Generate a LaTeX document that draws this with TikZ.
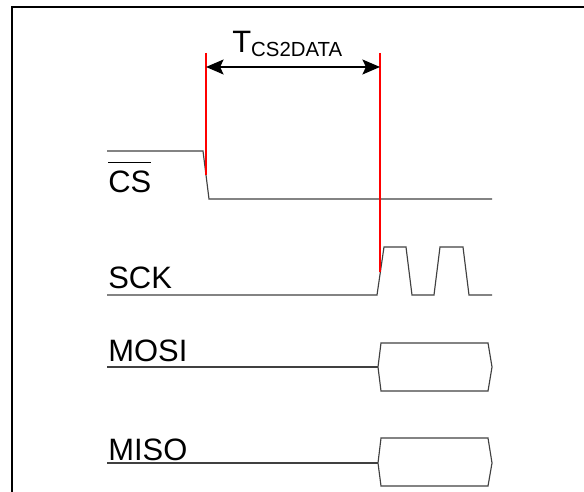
\documentclass[tikz,border=0pt]{standalone}
\usepackage{fontspec}
\setmainfont{Liberation Sans}
\usetikzlibrary{arrows.meta,positioning}
\newcommand{\barsig}[1]{\setbox0\hbox{#1}\rlap{\rule[17pt]{\wd0}{0.6pt}}\box0}

\begin{document}
\begin{tikzpicture}
[x=0.02cm,y=-0.02cm,
 sig/.style={draw=black!75,line width=0.65pt},
 marker/.style={draw=red,line width=1.1pt},
 lbl/.style={anchor=base west,inner sep=0pt,font=\fontsize{17.6}{20}\selectfont}]
\useasboundingbox (0,0) rectangle (584,492);
\draw[line width=1pt] (12,492) -- (12,7) -- (584,7);
% signal names
\node[lbl] (cs) at (108,193) {\barsig{CS}};
\node[lbl] (sck) at (108,289) {SCK};
\node[lbl] (mosi) at (108,362) {MOSI};
\node[lbl] (miso) at (108,460) {MISO};
% waveforms
\draw[sig] (107,151) -- (203,151) -- (209,199) -- (492,199);
\draw[sig] (107,295) -- (377,295) -- (384,247) -- (406,247) -- (412,295)
  -- (434,295) -- (440,247) -- (463,247) -- (469,295) -- (492,295);
\draw[sig] (107,367) -- (378,367);
\draw[sig] (378,367) -- (381,343) -- (488,343) -- (492,367) -- (488,391)
  -- (381,391) -- cycle;
\draw[sig] (107,463) -- (378,463);
\draw[sig] (378,463) -- (381,438) -- (488,438) -- (492,463) -- (488,486)
  -- (381,486) -- cycle;
% timing marks
\coordinate (t0) at (206,67);
\coordinate (t1) at (380,67);
\draw[marker] (206,53) -- (206,175);
\draw[marker] (380,53) -- (380,272);
\draw[line width=1.1pt,{Stealth[length=10pt,width=8.5pt,inset=2pt]}-{Stealth[length=10pt,width=8.5pt,inset=2pt]}]
  (t0) -- (t1);
\node[anchor=base west,inner sep=0pt,font=\fontsize{17.6}{20}\selectfont] (tcs) at (232,53)
  {T\raisebox{-2.1pt}{\fontsize{11.6}{13}\selectfont CS2DATA}};
\end{tikzpicture}
\end{document}
